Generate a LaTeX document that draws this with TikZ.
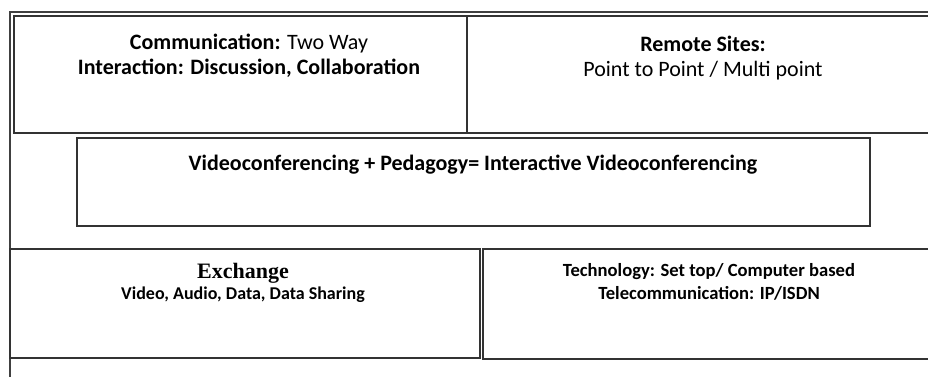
\documentclass[tikz,border=0pt]{standalone}
\usepackage{fontspec}
\setmainfont{Carlito}
\newfontfamily\serifhead{Liberation Serif}
\usetikzlibrary{positioning}

\tikzset{
  frameline/.style={line width=0.8pt, draw=black!75},
  cellbox/.style={line width=0.9pt, draw=black!80},
  celltext/.style={align=center, inner sep=0pt, anchor=north, text=black},
}

\begin{document}
\begin{tikzpicture}[x=0.5pt, y=-0.5pt]
    \useasboundingbox (0,0) rectangle (928,376);
    \clip (0,0) rectangle (928,376);
    \fill[white] (0,0) rectangle (928,376);

    % Outer frame
    \draw[frameline] (10,380) -- (10,12) -- (950,12);

    % Top row
    \draw[cellbox] (14,16) rectangle (467,133);
    \draw[cellbox] (467,16) rectangle (939,133);
    \node[celltext, font=\fontsize{11}{12.5}\selectfont] (comm) at (249,34)
        {\textbf{Communication:} Two Way\\ \textbf{Interaction: Discussion, Collaboration}};
    \node[celltext, font=\fontsize{11}{12.5}\selectfont] (remote) at (703,36)
        {\textbf{Remote Sites:}\\ Point to Point / Multi point};

    % Middle box
    \draw[cellbox] (77,138) rectangle (870,226);
    \node[celltext, font=\fontsize{11}{12}\bfseries] (vcped) at (473,155)
        {Videoconferencing + Pedagogy= Interactive Videoconferencing};

    % Bottom row
    \draw[cellbox] (10,249) rectangle (480,358);
    \draw[cellbox] (483,249) rectangle (939,359);
    \node[celltext, font=\fontsize{9}{10.5}\selectfont] (exch) at (243,263)
        {{\serifhead\bfseries\fontsize{11}{12}\selectfont Exchange}\\ \textbf{Video, Audio, Data, Data Sharing}};
    \node[celltext, font=\fontsize{9.3}{11.3}\bfseries] (tech) at (709,263)
        {Technology: Set top/ Computer based\\ Telecommunication: IP/ISDN};
\end{tikzpicture}
\end{document}
